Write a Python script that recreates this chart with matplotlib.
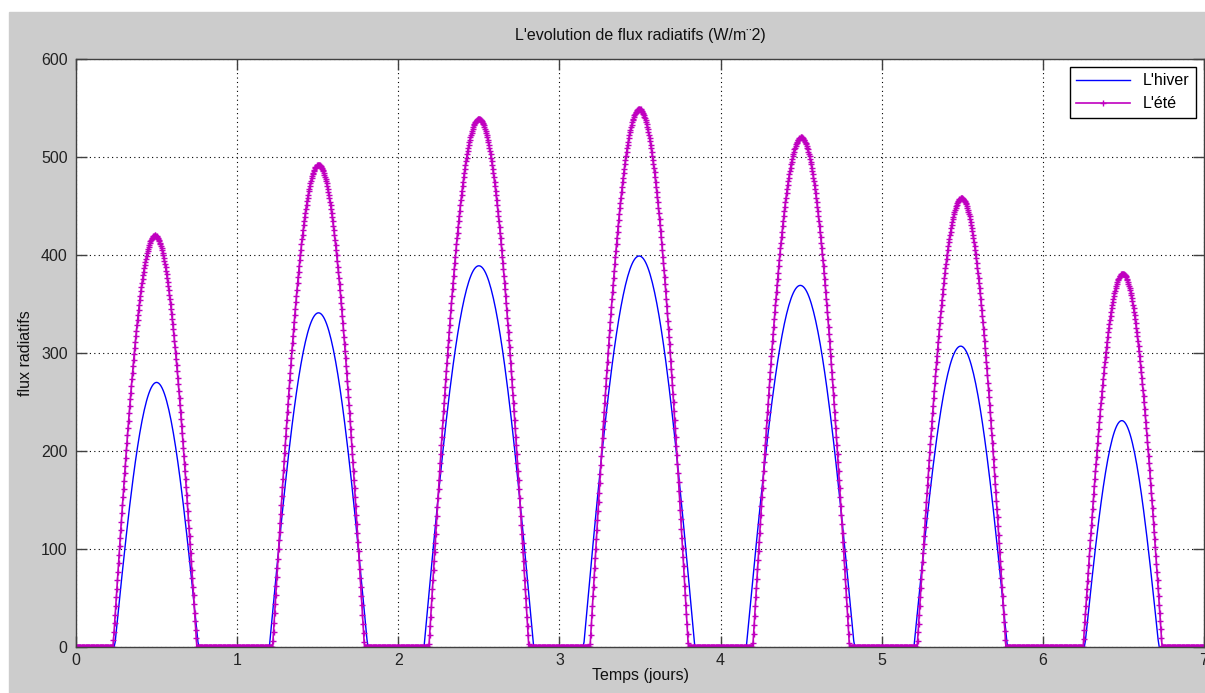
import numpy as np
import matplotlib
matplotlib.use("Agg")
import matplotlib.pyplot as plt
from matplotlib.patches import Rectangle

plt.rcParams['font.family'] = ['Liberation Sans', 'DejaVu Sans']

# values (one arch per day)
days = [0, 1, 2, 3, 4, 5, 6]
hiver_peak = [270, 341, 389, 399, 369, 307, 231]
hiver_rise = [0.24, 1.20, 2.16, 3.15, 4.16, 5.20, 6.26]
hiver_set = [0.76, 1.81, 2.84, 3.84, 4.83, 5.78, 6.72]
ete_peak = [420, 492, 539, 549, 520, 458, 381]
ete_rise = [0.23, 1.22, 2.19, 3.19, 4.20, 5.22, 6.25]
ete_set = [0.75, 1.79, 2.81, 3.80, 4.80, 5.77, 6.74]

xticks = [0, 1, 2, 3, 4, 5, 6, 7]
yticks = [0, 100, 200, 300, 400, 500, 600]


def arches(t, peaks, rises, sets):
    y = np.zeros_like(t)
    for p, r, s in zip(peaks, rises, sets):
        m = (t >= r) & (t <= s)
        y[m] = p * np.sin(np.pi * (t[m] - r) / (s - r))
    return y


t1 = np.arange(0, 7.0001, 1 / 144)
t2 = np.arange(0, 7.0001, 1 / 288)
hiver = arches(t1, hiver_peak, hiver_rise, hiver_set)
ete = arches(t2, ete_peak, ete_rise, ete_set)

fig = plt.figure(figsize=(12.05, 6.93), dpi=100, facecolor='white')
fig.patches.append(Rectangle((9 / 1205, 0), 1, (693 - 12) / 693,
                             transform=fig.transFigure, color='#cccccc', zorder=-1))

ax = fig.add_axes([76 / 1205, 1 - 647 / 693, (1204 - 76) / 1205, (647 - 59) / 693])
ax.plot(t1, hiver, color='#0000ff', lw=1.0, label="L'hiver")
ax.plot(t2, ete, color='#c000c0', lw=1.2, marker='+', markersize=4.5,
        markeredgewidth=1.0, label="L'été")

ax.set_xlim(0, 7)
ax.set_ylim(0, 600)
ax.set_xticks(xticks)
ax.set_yticks(yticks)
ax.grid(True, color='black', linestyle=(0, (1, 3)), linewidth=0.8)
ax.tick_params(direction='in', length=8, width=1, color='#404040', labelsize=11.5,
               labelcolor='#222222', top=True, right=True)
ax.tick_params(axis='x', pad=4)
ax.tick_params(axis='y', pad=6)
for sp in ax.spines.values():
    sp.set_color('#404040')
    sp.set_linewidth(1.0)

ax.set_title("L'evolution de flux radiatifs (W/m¨2)", fontsize=11.5, pad=14, color='#111111')
ax.set_xlabel("Temps (jours)", fontsize=11.5, labelpad=0, color='#111111')
ax.set_ylabel("flux radiatifs", fontsize=11.5, labelpad=6, color='#111111')

leg = ax.legend(loc='upper right', fontsize=11.5, fancybox=False, framealpha=1,
                edgecolor='black', handlelength=3.4, borderaxespad=0.5)
leg.get_frame().set_linewidth(1.0)
for h in leg.legend_handles:
    h.set_markevery([1])

fig.savefig('out.png', dpi=100, facecolor=fig.get_facecolor())
